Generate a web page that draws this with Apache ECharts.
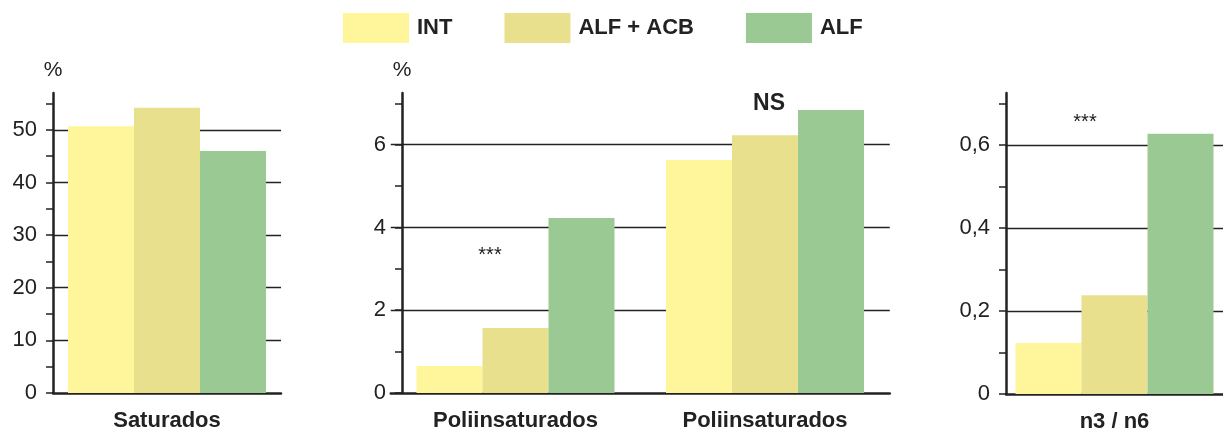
<!DOCTYPE html>
<html><head><meta charset="utf-8">
<script src="https://cdn.jsdelivr.net/npm/echarts@6/dist/echarts.min.js"></script>
<style>html,body{margin:0;padding:0;background:#fff}#c{width:1223px;height:433px}</style>
</head><body><div id="c"></div>
<script>
// ---- data ----
const seriesNames = ['INT', 'ALF + ACB', 'ALF'];
const cat1 = ['Saturados'];
const int1 = [50.7];
const acb1 = [54.2];
const alf1 = [46.0];
const cat2 = ['Poliinsaturados', 'Poliinsaturados'];
const int2 = [0.65, 5.63];
const acb2 = [1.57, 6.23];
const alf2 = [4.23, 6.84];
const cat3 = ['n3 / n6'];
const int3 = [0.123];
const acb3 = [0.238];
const alf3 = [0.627];
const labels1 = [0, 10, 20, 30, 40, 50];
const ticks1 = [0, 5, 10, 15, 20, 25, 30, 35, 40, 45, 50, 55];
const labels2 = [0, 2, 4, 6];
const ticks2 = [0, 1, 2, 3, 4, 5, 6, 7];
const labels3 = [0, 0.2, 0.4, 0.6];
const ticks3 = [0, 0.1, 0.2, 0.3, 0.4, 0.5, 0.6, 0.7];
// significance notes: [text, category index, value]
const note1 = ['*', 0, 57.9];
const note2a = ['***', 0, 3.32];
const note2b = ['NS', 1, 7.0];
const note3 = ['***', 0, 0.653];

// ---- style ----
const colors = ['#FFF59B', '#E8E08C', '#9BC994'];
const FONT = '"Liberation Sans", Arial, sans-serif';
const INK = '#222';

const chart = echarts.init(document.getElementById('c'), null, {renderer: 'canvas'});

function yAxisMain(idx, max, interval, labelVals, name, offset, fmt) {
  return {
    type: 'value', gridIndex: idx, position: 'left', min: 0, max: max, interval: interval,
    offset: offset || 0,
    name: name, nameLocation: 'end', nameGap: 23,
    nameTextStyle: {fontFamily: FONT, fontSize: 21, color: INK, align: 'center', verticalAlign: 'middle'},
    axisLine: {show: true, lineStyle: {color: INK, width: 2.5}},
    axisTick: {show: true, customValues: labelVals, length: 7, lineStyle: {color: INK, width: 1.5}},
    axisLabel: {customValues: labelVals, margin: 16, fontFamily: FONT, fontSize: 22, color: INK,
      formatter: fmt || (v => String(v))},
    splitLine: {show: true, showMinLine: false, showMaxLine: true, lineStyle: {color: INK, width: 1.4}}
  };
}
function yAxisMinor(idx, max, interval, tickVals, offset) {
  return {
    type: 'value', gridIndex: idx, position: 'left', min: 0, max: max, interval: interval,
    offset: offset || 0,
    axisLine: {show: false},
    axisTick: {show: true, customValues: tickVals, length: 7, lineStyle: {color: INK, width: 1.5}},
    axisLabel: {show: false},
    splitLine: {show: false}
  };
}
function xAxis(idx, cats) {
  return {
    type: 'category', gridIndex: idx, data: cats,
    axisLine: {show: true, lineStyle: {color: INK, width: 2.5}},
    axisTick: {show: false},
    axisLabel: {interval: 0, margin: 17, fontFamily: FONT, fontSize: 22, fontWeight: 'bold', color: INK}
  };
}
function noteItem(n, dx) {
  const bold = n[0] === 'NS';
  return {coord: [n[1], n[2]], value: n[0],
    label: {offset: [dx, 0], fontSize: bold ? 23 : 20, fontWeight: bold ? 'bold' : 'normal'}};
}
function markers(items) {
  return {
    symbol: 'circle', symbolSize: 0, silent: true, data: items,
    label: {show: true, position: 'inside', formatter: p => p.value, fontFamily: FONT, color: INK}
  };
}
function bars(idx, vals, mp) {
  return vals.map((v, i) => {
    const s = {
      type: 'bar', name: seriesNames[i], xAxisIndex: idx, yAxisIndex: idx * 2, data: v,
      barWidth: 66, barGap: '0%', itemStyle: {color: colors[i]}, animation: false
    };
    if (i === 1 && mp) s.markPoint = mp;
    return s;
  });
}

const comma = v => String(v).replace('.', ',');

chart.setOption({
  animation: false,
  color: colors,
  legend: {
    data: seriesNames, left: 343, top: 13, padding: 0, itemWidth: 66, itemHeight: 30, itemGap: 52, icon: 'rect',
    textStyle: {fontFamily: FONT, fontSize: 22, fontWeight: 'bold', color: INK, padding: [0, 0, 0, 3]}
  },
  grid: [
    {left: 53, right: 942, top: 93, bottom: 40},
    {left: 390.75, right: 333.25, top: 93, bottom: 40},
    {left: 1006, right: -10, top: 93, bottom: 39}
  ],
  xAxis: [xAxis(0, cat1), xAxis(1, cat2), xAxis(2, cat3)],
  yAxis: [
    yAxisMain(0, 57, 10, labels1, '%'),
    yAxisMinor(0, 57, 10, ticks1),
    yAxisMain(1, 7.25, 2, labels2, '%', -11.25),
    yAxisMinor(1, 7.25, 2, ticks2, -11.25),
    yAxisMain(2, 0.725, 0.2, labels3, '', 0, comma),
    yAxisMinor(2, 0.725, 0.2, ticks3, 0)
  ],
  series: [].concat(
    bars(0, [int1, acb1, alf1], markers([noteItem(note1, -3)])),
    bars(1, [int2, acb2, alf2], markers([noteItem(note2a, -25.5), noteItem(note2b, 4)])),
    bars(2, [int3, acb3, alf3], markers([noteItem(note3, -29.5)]))
  )
});
</script></body></html>
